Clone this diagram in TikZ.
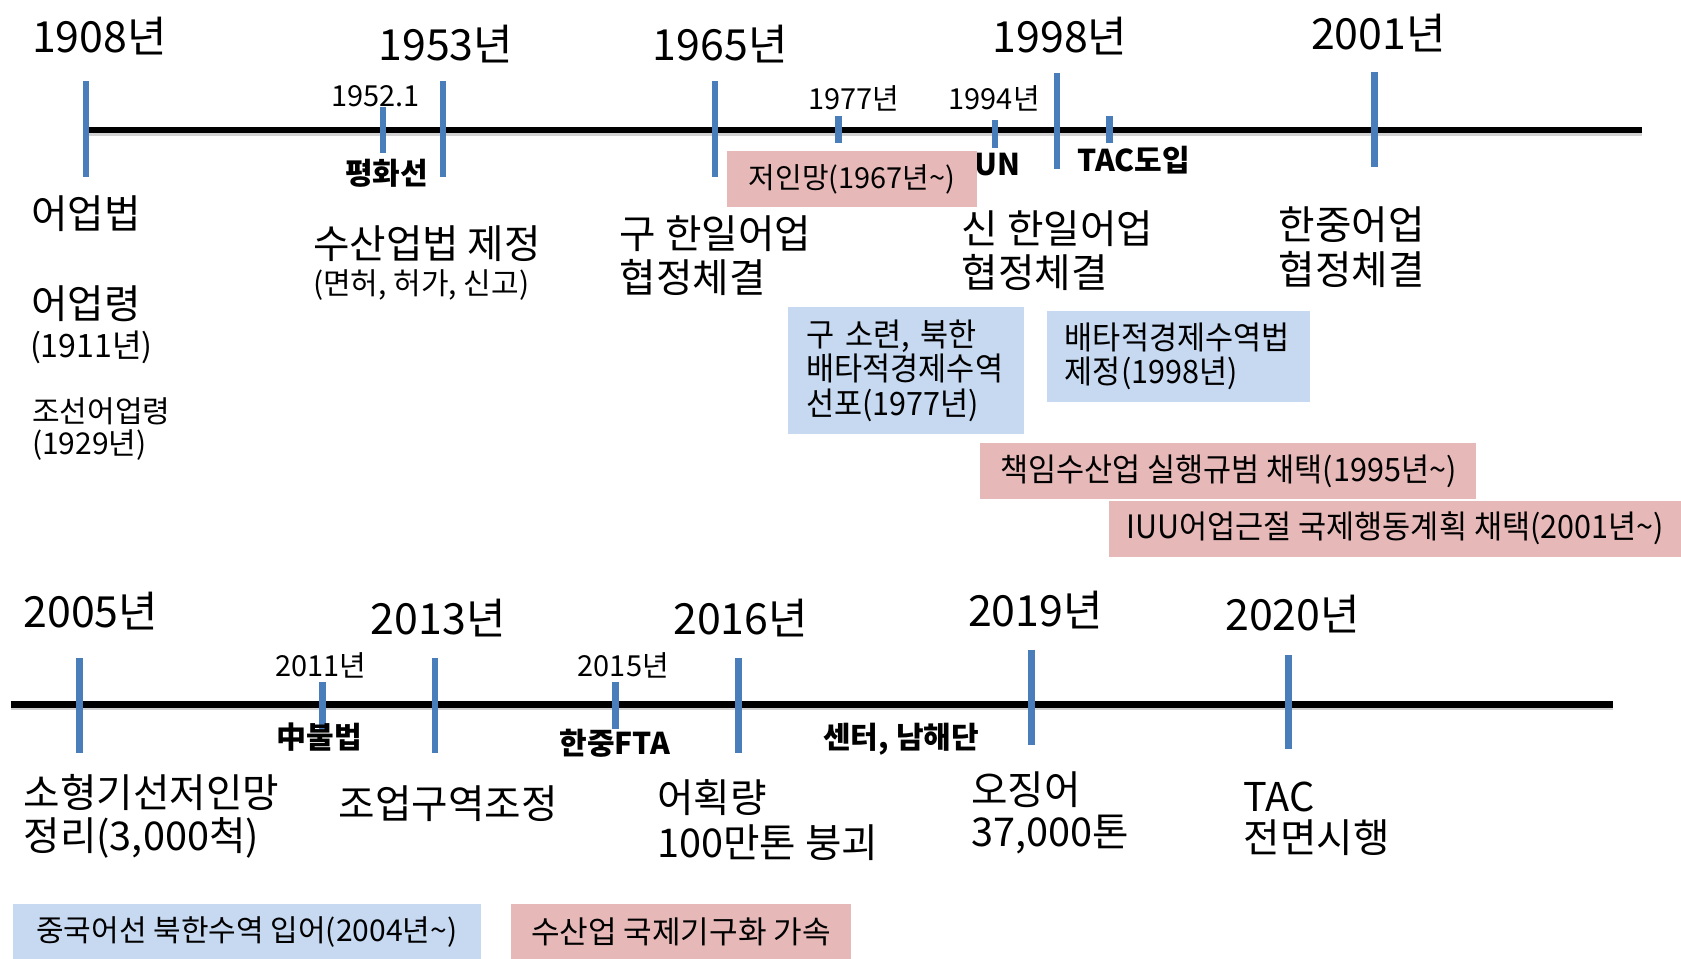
\documentclass[tikz,border=0pt]{standalone}
\usepackage{fontspec}
\setmainfont{Noto Sans CJK KR}
\newfontfamily\cond[FakeStretch=0.95]{Noto Sans CJK KR}
\newcommand{\tl}{\char"007E\relax}
\definecolor{tickblue}{HTML}{4A7EBB}
\definecolor{boxblue}{HTML}{C6D9F1}
\definecolor{boxpink}{HTML}{E6B9B8}
\begin{document}
\begin{tikzpicture}[x=1pt,y=-1pt,
  lbl/.style={anchor=base west, inner sep=0pt, outer sep=0pt},
  big/.style={lbl, font=\fontsize{40}{44}\selectfont},
  mid/.style={lbl, font=\fontsize{37}{41}\selectfont, align=left},
  sml/.style={lbl, font=\fontsize{27}{30}\selectfont},
  bsml/.style={lbl, font=\fontsize{28}{30}\selectfont\bfseries},
  tick/.style={draw=tickblue, line width=6pt},
  axis/.style={draw=black, line width=6pt},
  shadow/.style={draw=black!18, line width=5pt},
  pinkbox/.style={fill=boxpink, anchor=north west, inner sep=0pt, font=\fontsize{26}{30}\selectfont},
  bluebox/.style={fill=boxblue, anchor=north west, inner sep=0pt, font=\fontsize{26}{30}\selectfont},
  condfont/.style={font=\cond\fontsize{30}{32}\selectfont},
]
\useasboundingbox (0,0) rectangle (1568,894.5);
\fill[white] (0,0) rectangle (1568,894.5);

% ---------- top timeline ----------
\coordinate (ta) at (80,121);
\coordinate (tb) at (1532,121);
\draw[shadow] ([yshift=-3pt]ta) -- ([yshift=-3pt]tb);
\draw[axis] (ta) -- (tb);

\draw[tick] (80,76) -- (80,165);
\draw[tick] (357,100) -- (357,143);
\draw[tick] (413,76) -- (413,165);
\draw[tick] (667,76) -- (667,165);
\draw[tick] (782,108) -- (782,133);
\draw[tick] (928,112) -- (928,138);
\draw[tick] (986,68) -- (986,158);
\draw[tick] (1035,108) -- (1035,133);
\draw[tick] (1282,67) -- (1282,156);

\node[big] (y1908) at (30,49) {1908년};
\node[big] (y1953) at (353,56) {1953년};
\node[big] (y1965) at (609,56) {1965년};
\node[big] (y1998) at (926,49) {1998년};
\node[big] (y2001) at (1223,46) {2001년};

\node[sml] (y1952) at (309,99) {1952.1};
\node[sml] (y1977) at (754,102) {1977년};
\node[sml] (y1994) at (885,102) {1994년};

\node[bsml] (pws) at (322,172) {평화선};
\node[bsml] (un) at (909,164) {UN};
\node[bsml] (tac) at (1005,160) {TAC도입};

\node[mid] (l1) at (29,213) {어업법};
\node[mid] (l2) at (29,297) {어업령};
\node[lbl, font=\fontsize{30}{32}\selectfont] (l3) at (28,333) {(1911년)};
\node[lbl, font=\fontsize{28}{30}\selectfont] (l4) at (30,394) {조선어업령};
\node[lbl, font=\fontsize{28}{30}\selectfont] (l5) at (30,424) {(1929년)};

\node[mid] (l6) at (292,241) {수산업법 제정};
\node[lbl, font=\fontsize{28}{31}\selectfont] (l7) at (292,275) {(면허, 허가, 신고)};

\node[mid] (l8) at (578,232) {구 한일어업};
\node[mid] (l9) at (578,273) {협정체결};
\node[mid] (l10) at (897,227) {신 한일어업};
\node[mid] (l11) at (897,268) {협정체결};
\node[mid] (l12) at (1193,223) {한중어업};
\node[mid] (l13) at (1193,265) {협정체결};

\node[pinkbox, minimum width=233pt, minimum height=52pt, font=\fontsize{27}{30}\selectfont] (b1) at (678,141) {저인망(1967년\tl)};
\node[bluebox, minimum width=220pt, minimum height=119pt, text width=186pt, align=left, inner xsep=17pt, condfont] (b2) at (735,286) {구 소련, 북한\\배타적경제수역\\선포(1977년)};
\node[bluebox, minimum width=246pt, minimum height=85pt, text width=212pt, align=left, inner xsep=17pt, condfont] (b3) at (976,290) {배타적경제수역법\\제정(1998년)};
\node[pinkbox, minimum width=463pt, minimum height=52pt, condfont] (b4) at (914,413) {책임수산업 실행규범 채택(1995년\tl)};
\node[pinkbox, minimum width=534pt, minimum height=52pt, condfont] (b5) at (1034,467) {IUU어업근절 국제행동계획 채택(2001년\tl)};

% ---------- bottom timeline ----------
\coordinate (ba) at (10,657);
\coordinate (bb) at (1505,657);
\draw[shadow] ([yshift=-3pt]ba) -- ([yshift=-3pt]bb);
\draw[axis] (ba) -- (bb);

\draw[tick] (74,614) -- (74,702);
\draw[tick] (301,636) -- (301,680);
\draw[tick] (406,614) -- (406,702);
\draw[tick] (574,636) -- (574,680);
\draw[tick] (689,614) -- (689,702);
\draw[tick] (962,606) -- (962,695);
\draw[tick] (1202,611) -- (1202,699);

\node[big] (y2005) at (22,585) {2005년};
\node[big] (y2013) at (346,592) {2013년};
\node[big] (y2016) at (628,592) {2016년};
\node[big] (y2019) at (903,584) {2019년};
\node[big] (y2020) at (1143,588) {2020년};

\node[sml] (y2011) at (257,631) {2011년};
\node[sml] (y2015) at (539,631) {2015년};

\node[bsml] (cn) at (258,698) {中불법};
\node[bsml] (fta) at (522,704) {한중FTA};
\node[bsml] (ctr) at (768,698) {센터, 남해단};

\node[mid] (m1) at (22,753) {소형기선저인망};
\node[mid] (m2) at (22,793) {정리(3,000척)};
\node[mid] (m3) at (316,763) {조업구역조정};
\node[mid] (m4) at (613,758) {어획량};
\node[mid] (m5) at (613,800) {100만톤 붕괴};
\node[mid] (m6) at (906,750) {오징어};
\node[mid] (m7) at (906,790) {37,000톤};
\node[mid] (m8) at (1160,757) {TAC};
\node[mid] (m9) at (1160,795) {전면시행};

\node[bluebox, minimum width=436pt, minimum height=52pt, font=\fontsize{28}{30}\selectfont] (b6) at (12,843) {중국어선 북한수역 입어(2004년\tl)};
\node[pinkbox, minimum width=318pt, minimum height=52pt, font=\fontsize{29}{30}\selectfont] (b7) at (476,843) {수산업 국제기구화 가속};
\end{tikzpicture}
\end{document}
